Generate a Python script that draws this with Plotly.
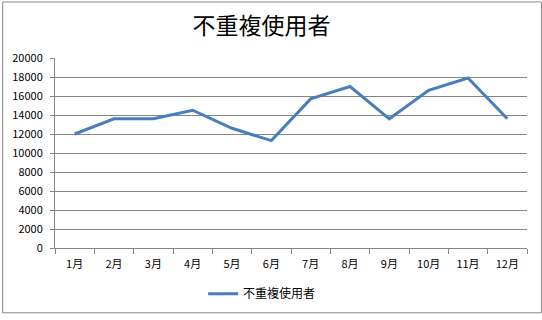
import plotly.graph_objects as go

months = ["1月", "2月", "3月", "4月", "5月", "6月", "7月", "8月", "9月", "10月", "11月", "12月"]
users = [12000, 13600, 13600, 14500, 12600, 11300, 15700, 17000, 13600, 16600, 17900, 13600]
series_name = "不重複使用者"
title_text = "不重複使用者"

W, H = 542, 320
L, R, T, B = 53, 15, 58, 67
pw = W - L - R
ph = H - T - B

font_family = "Noto Sans CJK JP, Noto Sans CJK TC, sans-serif"

fig = go.Figure()
fig.add_trace(go.Scatter(
    x=months, y=users, mode="lines", name=series_name,
    line=dict(color="#4a7ebb", width=3),
))

fig.update_layout(
    width=W, height=H,
    margin=dict(l=L, r=R, t=T, b=B),
    paper_bgcolor="white", plot_bgcolor="white",
    font=dict(family=font_family, color="black", size=11),
    title=dict(text=title_text, x=261.5 / W, xref="container", xanchor="center",
               y=1 - 26 / H, yref="container", yanchor="middle",
               font=dict(size=23, family=font_family, color="black")),
    showlegend=True,
    legend=dict(orientation="h", x=(261 - L) / pw, xanchor="center",
                y=(H - B - 300) / ph, yanchor="middle",
                font=dict(size=12), itemwidth=30, bgcolor="rgba(0,0,0,0)"),
    xaxis=dict(type="category", range=[-0.5, 11.5], showline=True, linecolor="#868686", linewidth=1,
               ticks="outside", ticklen=5, tickcolor="#868686", tickson="boundaries",
               showgrid=False, tickfont=dict(size=11), ticklabelstandoff=6),
    yaxis=dict(range=[0, 20000], dtick=2000, tickformat="d", showline=True, linecolor="#868686", linewidth=1,
               ticks="outside", ticklen=4, tickcolor="#868686",
               showgrid=True, gridcolor="#868686", gridwidth=1, zeroline=False,
               tickfont=dict(size=11), ticklabelstandoff=5),
    shapes=[dict(type="rect", xref="paper", yref="paper",
                 x0=(0.5 - L) / pw, x1=(W - 0.5 - L) / pw,
                 y0=(H - B - (H - 0.5)) / ph, y1=(H - B - 0.5) / ph,
                 line=dict(color="#868686", width=1), fillcolor="rgba(0,0,0,0)", layer="below")],
)

fig.write_html("out.html")
